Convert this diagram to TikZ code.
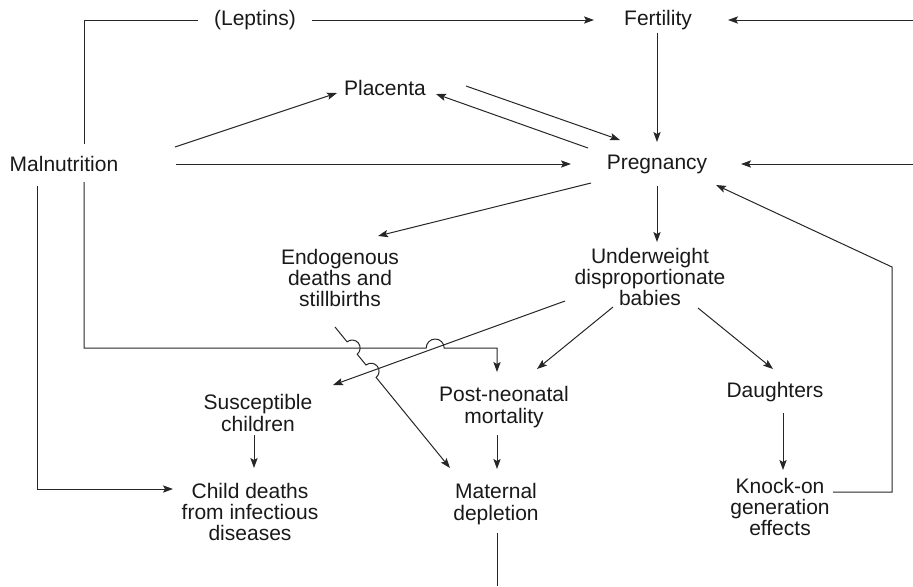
\documentclass[tikz,border=0pt]{standalone}
\usepackage{fontspec}
\setmainfont{Liberation Sans}
\usepackage{tikz}
\usetikzlibrary{arrows.meta,calc,intersections}
\def\largeur{913}
\def\hauteur{586}
\tikzset{
    lbl/.style={align=center, inner sep=0pt, text=black!90, font=\fontsize{10.5}{10.6}\selectfont},
    fl/.style={-{Stealth[length=5pt,width=3.6pt,inset=1pt]}},
}

\begin{document}
\begin{tikzpicture}[x=0.5pt, y=0.5pt, line width=0.5pt, black!85]
\useasboundingbox (0,0) rectangle (\largeur,-\hauteur);
%\draw[step=50, black!20] (0,0) grid (\largeur,-\hauteur);
    \node[lbl] (lep) at (255,-20) {(Leptins)};
    \node[lbl] (fert) at (658,-20) {Fertility};
    \node[lbl] (plac) at (385,-88) {Placenta};
    \node[lbl] (maln) at (64,-164) {Malnutrition};
    \node[lbl] (preg) at (657,-164) {Pregnancy};
    \node[lbl] (endo) at (340,-278) {Endogenous\\deaths and\\stillbirths};
    \node[lbl] (under) at (650,-277) {Underweight\\disproportionate\\babies};
    \node[lbl] (susc) at (258,-413) {Susceptible\\children};
    \node[lbl] (postn) at (504,-407) {Post-neonatal\\mortality};
    \node[lbl] (daugh) at (775,-392) {Daughters};
    \node[lbl] (child) at (250,-512) {Child deaths\\from infectious\\diseases};
    \node[lbl] (matern) at (496,-504) {Maternal\\depletion};
    \node[lbl] (knock) at (780,-507) {Knock-on\\generation\\effects};
    \coordinate (rtop) at (\largeur,-20);
    \coordinate (rmid) at (\largeur,-164);
    \coordinate (mbot) at (497,-\hauteur);
%top row
    \draw ($(maln.center)+(20,20)$) |- ($(lep.center)+(-57,0)$);
    \draw[fl] ($(lep.center)+(57,0)$) -- ($(fert.center)+(-64,0)$);
    \draw[fl] (rtop) -- ($(fert.center)+(70,0)$);
    \draw[fl] ($(fert.center)+(-1,-13)$) -- ($(preg.center)+(0,22)$);
%placenta
    \draw[fl] ($(maln.center)+(111,17)$) -- ($(plac.center)+(-48,-5)$);
    \draw[fl] ($(plac.center)+(81,2)$) -- ($(preg.center)+(-37,24)$);
    \draw[fl] ($(preg.center)+(-69,16)$) -- ($(plac.center)+(51,-6)$);
    \draw[fl] ($(maln.center)+(112,0)$) -- ($(preg.center)+(-86,0)$);
    \draw[fl] (rmid) -- ($(preg.center)+(84,0)$);
%below pregnancy
    \draw[fl] ($(preg.center)+(-66,-19)$) -- ($(endo.center)+(38,42)$);
    \draw[fl] ($(preg.center)+(0,-22)$) -- ($(under.center)+(7,35)$);
    \draw[fl] ($(under.center)+(-37,-30)$) -- ($(postn.center)+(33,38)$);
    \draw[fl] ($(under.center)+(48,-31)$) -- ($(daugh.center)+(-2,23)$);
    \draw[fl] ($(daugh.center)+(8,-21)$) -- ($(knock.center)+(3,37)$);
    \draw[fl] ($(knock.center)+(53,15)$) -- ++(59,0) -- ++(0,225) -- ($(preg.center)+(59,-21)$);
%crossing lines
    \coordinate (us) at ($(under.center)+(-85,-24)$);
    \coordinate (su) at ($(susc.center)+(75,28)$);
    \coordinate (ms) at ($(maln.center)+(20,-18)$);
    \coordinate (hl) at ($(maln.center)+(20,-184)$);
    \coordinate (pn) at ($(postn.center)+(-7,35)$);
    \coordinate (e1) at ($(endo.center)+(-5,-49)$);
    \coordinate (e2) at ($(matern.center)+(-46,36)$);
    \path[name path=suscline] (us) -- (su);
    \path[name path=horizline] (hl) -- (hl -| pn);
    \path[name path=endoline] (e1) -- (e2);
    \path[name intersections={of=horizline and suscline, by=xa}];
    \path[name intersections={of=endoline and horizline, by=xb}];
    \path[name intersections={of=endoline and suscline, by=xc}];
    \draw[fl] (us) -- (su);
    \draw[fl] (ms) -- (hl) -- ($(xa)+(-9,0)$) arc[start angle=180, end angle=0, radius=4.5pt] -- (hl -| pn) -- (pn);
    \draw[fl] (e1) -- ($(xb)!4pt!(e1)$) arc[start angle=129.2, end angle=-50.8, radius=4pt]
        -- ($(xc)!4pt!(e1)$) arc[start angle=129.2, end angle=-50.8, radius=4pt] -- (e2);
%bottom
    \draw[fl] ($(maln.center)+(-27,-22)$) |- ($(child.center)+(-77,23)$);
    \draw[fl] ($(susc.center)+(-4,-22)$) -- ($(child.center)+(4,44)$);
    \draw[fl] ($(postn.center)+(-7,-28)$) -- ($(matern.center)+(1,35)$);
    \draw ($(matern.center)+(1,-29)$) -- (mbot);
\end{tikzpicture}
\end{document}
